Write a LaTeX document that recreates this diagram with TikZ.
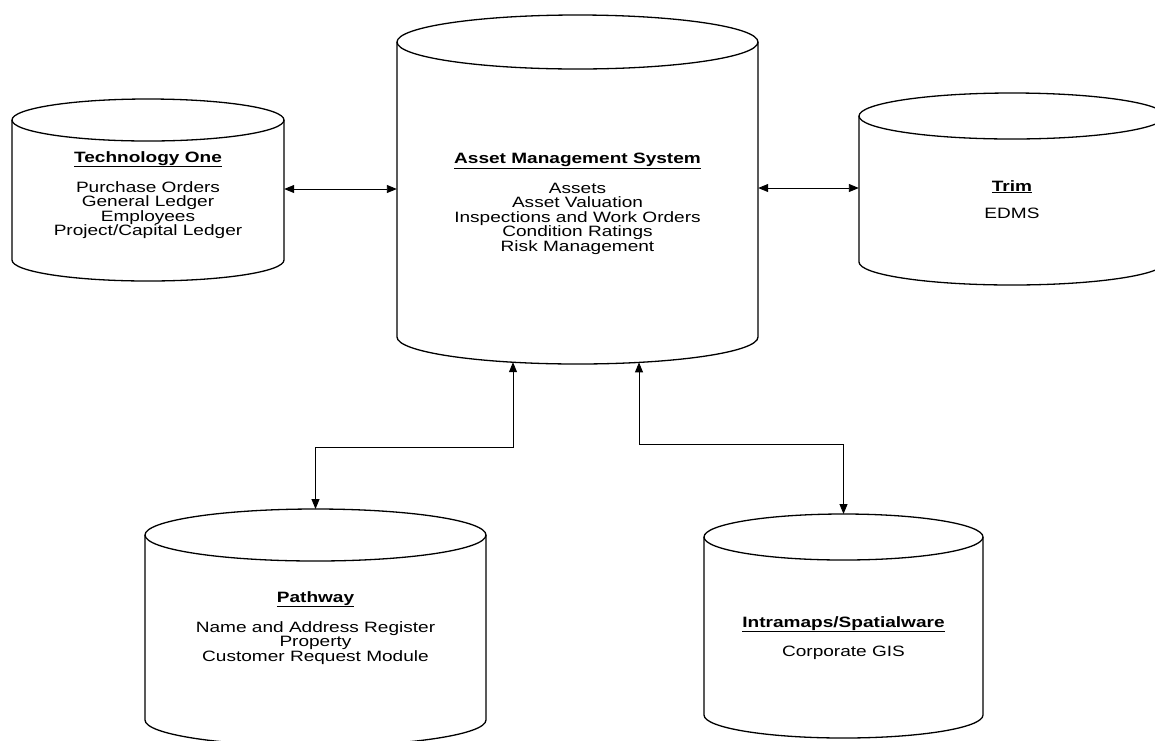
\documentclass[tikz,border=0pt]{standalone}
\usepackage{fontspec}
\setmainfont{Liberation Sans}[FakeStretch=1.27]
\usetikzlibrary{arrows.meta}
\tikzset{
  cylline/.style={line width=1.3pt, line join=round},
  conn/.style={line width=0.9pt, {Triangle[length=10pt,width=8pt]}-{Triangle[length=10pt,width=8pt]}},
  dbtext/.style={align=center, inner sep=0pt, anchor=north, font=\fontsize{15}{14.5}\selectfont},
  dbbody/.style={inner sep=0pt, draw=none},
}
% #1 name, #2 left x, #3 right x, #4 top centre y, #5 bottom centre y, #6 ry
\newcommand\dbcyl[6]{%
  \pgfmathsetmacro\cylcx{(#2+#3)/2}%
  \pgfmathsetmacro\cylrx{(#3-#2)/2}%
  \pgfmathsetmacro\cylh{#5-#4}%
  \draw[cylline] (#2,#4) -- (#2,#5) arc[start angle=180, delta angle=-180, x radius=\cylrx, y radius=#6] -- (#3,#4);
  \draw[cylline] (\cylcx,#4) ellipse[x radius=\cylrx, y radius=#6];
  \node[dbbody, minimum width=2*\cylrx pt, minimum height=\cylh pt] (#1) at (\cylcx,{(#4+#5)/2}) {};
}
\begin{document}
\begin{tikzpicture}[x=1pt,y=-1pt]
\useasboundingbox (0,0) rectangle (1155,740);
\clip (0,0) rectangle (1155,740);
\fill[white] (0,0) rectangle (1155,740);

% cylinders
\dbcyl{tech}{12}{284}{120}{260}{21}
\dbcyl{ams}{397}{758}{42}{337}{27}
\dbcyl{trim}{859}{1165}{116}{262}{23}
\dbcyl{path}{145}{486}{535}{720}{26}
\dbcyl{gis}{704}{983}{537}{715}{23}

% texts
\node[dbtext] (techtxt) at (148,151) {\textbf{\underline{Technology One}}\\[13pt]Purchase Orders\\General Ledger\\Employees\\Project/Capital Ledger};
\node[dbtext] (amstxt) at (577.5,153) {\textbf{\underline{Asset Management System}}\\[13pt]Assets\\Asset Valuation\\Inspections and Work Orders\\Condition Ratings\\Risk Management};
\node[dbtext] (trimtxt) at (1012,180) {\textbf{\underline{Trim}}\\[13pt]EDMS};
\node[dbtext] (pathtxt) at (315.5,591) {\textbf{\underline{Pathway}}\\[13pt]Name and Address Register\\Property\\Customer Request Module};
\node[dbtext] (gistxt) at (843.5,616) {\textbf{\underline{Intramaps/Spatialware}}\\[13pt]Corporate GIS};

% connection points
\coordinate (tech-e) at (tech.east |- 0,189);
\coordinate (ams-w) at (ams.west |- 0,189);
\coordinate (ams-e) at (ams.east |- 0,188);
\coordinate (trim-w) at (trim.west |- 0,188);
\coordinate (ams-s1) at (513,362.2);
\coordinate (ams-s2) at (639,362.4);
\coordinate (path-n) at (315.5,509);
\coordinate (gis-n) at (843.5,514);
\coordinate (bend1) at (315.5,447);
\coordinate (bend2) at (843.5,444);

% connectors
\draw[conn] (tech-e) -- (ams-w);
\draw[conn] (ams-e) -- (trim-w);
\draw[conn] (ams-s1) |- (bend1) -- (path-n);
\draw[conn] (ams-s2) |- (bend2) -- (gis-n);
\end{tikzpicture}
\end{document}
